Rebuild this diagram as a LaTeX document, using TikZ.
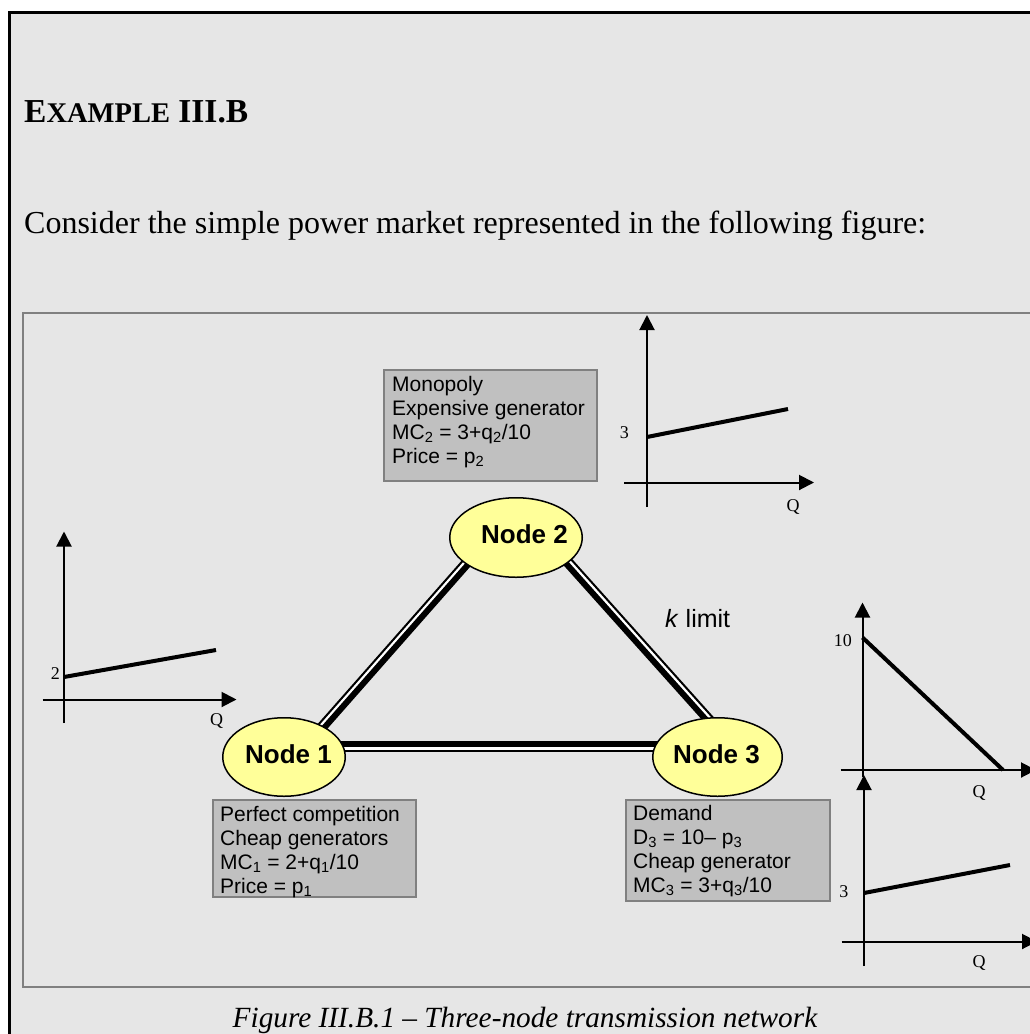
\documentclass[tikz,border=0pt]{standalone}
\usepackage{fontspec}
\setmainfont{Liberation Serif}
\setsansfont{Liberation Sans}
\usetikzlibrary{shapes.geometric,arrows.meta}
\definecolor{pagegray}{RGB}{230,230,230}
\definecolor{boxgray}{RGB}{192,192,192}
\definecolor{edgegray}{RGB}{128,128,128}
\definecolor{nodeyellow}{RGB}{255,255,153}
\pgfdeclarelayer{back}
\pgfdeclarelayer{wires}
\pgfsetlayers{back,wires,main}

\begin{document}
\begin{tikzpicture}[x=1pt,y=-1pt,
  busnode/.style={ellipse, draw=black, line width=1.5pt, fill=nodeyellow, inner sep=0pt,
    font=\sffamily\bfseries\fontsize{26}{30}\selectfont},
  infobox/.style={rectangle, draw=edgegray, line width=2pt, fill=boxgray, inner sep=0pt},
  infotext/.style={anchor=north west, inner sep=0pt, align=left,
    font=\sffamily\fontsize{21}{24}\selectfont},
  heavy/.style={line width=6pt},
  light/.style={line width=2pt},
  gap/.style={white, line width=2.6pt},
  axis/.style={line width=2pt, -{Triangle[length=15pt,width=15pt]}},
  curve/.style={line width=4pt},
  tick/.style={inner sep=0pt, font=\fontsize{18}{20}\selectfont},
]
\useasboundingbox (0,0) rectangle (1030,1034);

% page frame and figure frame
\begin{pgfonlayer}{back}
  \clip (0,0) rectangle (1030,1034);
  \filldraw[fill=pagegray, draw=black, line width=3pt] (9,12.8) rectangle (1060,1060);
  \draw[edgegray, line width=2pt] (23,312.5) rectangle (1060,986.7);
\end{pgfonlayer}

\clip (0,0) rectangle (1030,1034);

% heading and text
\node[anchor=base west, inner sep=0pt, font=\bfseries\fontsize{33.5}{40}\selectfont] (title) at (24,122)
  {E{\fontsize{28.5}{30}\selectfont XAMPLE} III.B};
\node[anchor=base west, inner sep=0pt, font=\fontsize{32}{38}\selectfont] (intro) at (24,233)
  {Consider the simple power market represented in the following figure:};
\node[anchor=base, inner sep=0pt, font=\itshape\fontsize{29.3}{34}\selectfont] (caption) at (525,1027)
  {Figure III.B.1 \textendash{} Three-node transmission network};

% buses
\node[busnode, minimum width=122.5, minimum height=78.5] (n1) at (284,757)
  {\raisebox{-6pt}[0pt][0pt]{\makebox[0pt]{\hspace{9pt}Node 1}}};
\node[busnode, minimum width=132.5, minimum height=79.5] (n2) at (516,537.5)
  {\raisebox{-5.5pt}[0pt][0pt]{\makebox[0pt]{\hspace{17pt}Node 2}}};
\node[busnode, minimum width=129.5, minimum height=78.5] (n3) at (717.5,757)
  {\raisebox{-6pt}[0pt][0pt]{\makebox[0pt]{Node 3\hspace{2pt}}}};

% transmission lines: heavy conductor inside, white gap, light conductor outside
\begin{pgfonlayer}{wires}
  \draw[gap]   ([shift={(4.99,4.34)}]n1.center) -- ([shift={(-16.81,-14.66)}]n2.center);
  \draw[heavy] ([shift={(8.2,7.15)}]n1.center) -- ([shift={(-13.6,-11.85)}]n2.center);
  \draw[light] ([shift={(3.3,2.9)}]n1.center) -- ([shift={(-18.5,-16.1)}]n2.center);
  \draw[gap]   ([shift={(18.0,-16.17)}]n2.center) -- ([shift={(15.3,-13.77)}]n3.center);
  \draw[heavy] ([shift={(14.8,-13.3)}]n2.center) -- ([shift={(12.1,-10.9)}]n3.center);
  \draw[light] ([shift={(19.7,-17.7)}]n2.center) -- ([shift={(17,-15.3)}]n3.center);
  \draw[gap]   ([shift={(0,-8.75)}]n1.center) -- ([shift={(0,-8.75)}]n3.center);
  \draw[heavy] ([shift={(0,-13)}]n1.center) -- ([shift={(0,-13)}]n3.center);
  \draw[light] ([shift={(0,-6.5)}]n1.center) -- ([shift={(0,-6.5)}]n3.center);
\end{pgfonlayer}

\node[anchor=base west, inner sep=0pt, font=\sffamily\fontsize{25}{30}\selectfont] (klimit) at (665,627)
  {\textit{k} limit};

% information boxes
\node[infobox, minimum width=213, minimum height=111] (mono) at (490.5,425.5) {};
\node[infotext] (monotext) at ([shift={(9,6)}]mono.north west)
  {\rule{0pt}{16pt}Monopoly\\Expensive generator\\MC\textsubscript{2} = 3+q\textsubscript{2}/10\\Price = p\textsubscript{2}};

\node[infobox, minimum width=203, minimum height=97] (comp) at (314.5,848.5) {};
\node[infotext] (comptext) at ([shift={(8,6)}]comp.north west)
  {\rule{0pt}{16pt}Perfect competition\\Cheap generators\\MC\textsubscript{1} = 2+q\textsubscript{1}/10\\Price = p\textsubscript{1}};

\node[infobox, minimum width=204, minimum height=101] (dem) at (728,850.5) {};
\node[infotext] (demtext) at ([shift={(8,5)}]dem.north west)
  {\rule{0pt}{16pt}Demand\\D\textsubscript{3} = 10\textendash{} p\textsubscript{3}\\Cheap generator\\MC\textsubscript{3} = 3+q\textsubscript{3}/10};

% cost curve, node 1
\draw[axis] (64,723) -- (64,531.5);
\draw[axis] (42.5,699.5) -- (236.5,699.5);
\draw[curve] (64,677) -- (216,650);
\node[tick, anchor=base east] (g1y) at (60,679) {2};
\node[tick, anchor=base] (g1q) at (216.5,725) {Q};

% cost curve, node 2
\draw[axis] (647,507) -- (647,315);
\draw[axis] (624,482.5) -- (814,482.5);
\draw[curve] (647,437) -- (788,409);
\node[tick, anchor=base east] (g2y) at (629,438) {3};
\node[tick, anchor=base] (g2q) at (793,511) {Q};

% demand curve, node 3
\draw[axis] (862.5,777) -- (862.5,602.5);
\draw[axis] (840.5,770) -- (1036,770);
\draw[curve] (862.5,637.5) -- (1003,770);
\node[tick, anchor=base east] (g3y) at (852,646) {10};
\node[tick, anchor=base] (g3q) at (979,797) {Q};

% cost curve, node 3
\draw[axis] (864,966) -- (864,775);
\draw[axis] (841.5,941.5) -- (1037,941.5);
\draw[curve] (864,893) -- (1010,865);
\node[tick, anchor=base east] (g4y) at (848.5,897) {3};
\node[tick, anchor=base] (g4q) at (979,967) {Q};
\end{tikzpicture}
\end{document}
